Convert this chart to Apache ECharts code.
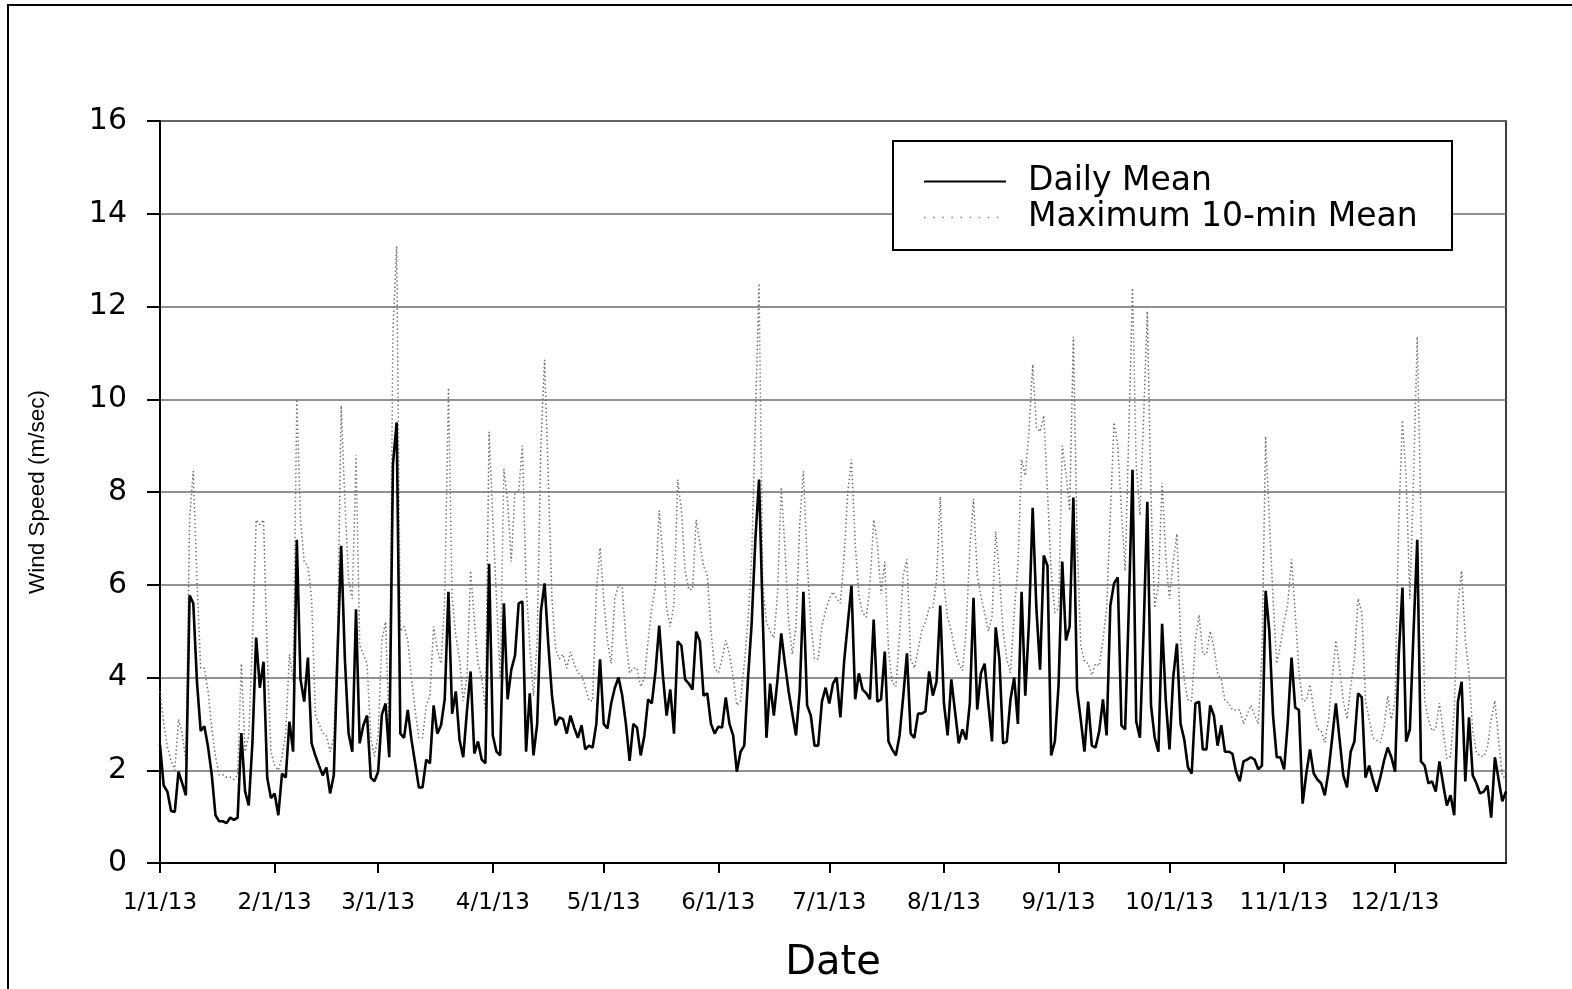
<!DOCTYPE html>
<html>
<head>
<meta charset="utf-8">
<title>Wind Speed 2013</title>
<script src="https://cdn.jsdelivr.net/npm/echarts@6/dist/echarts.min.js"></script>
<style>
  html, body { margin: 0; padding: 0; background: #fff; }
  #chart { width: 1572px; height: 989px; }
</style>
</head>
<body>
<div id="chart"></div>
<script>
// Daily mean wind speed (m/sec), 2013, one value per day
const meanJan = [2.55, 1.67, 1.54, 1.12, 1.10, 1.97, 1.72, 1.46, 5.77, 5.60, 3.90, 2.85, 2.95, 2.50, 1.90, 1.03, 0.90, 0.90, 0.86, 0.98, 0.93, 0.98, 2.80, 1.55, 1.24, 2.60, 4.86, 3.78, 4.34, 1.84, 1.40];
const meanFeb = [1.50, 1.03, 1.93, 1.84, 3.05, 2.40, 6.97, 3.96, 3.48, 4.43, 2.58, 2.32, 2.10, 1.89, 2.06, 1.50, 1.89, 4.50, 6.84, 4.40, 2.79, 2.40, 5.47, 2.58, 2.97, 3.18, 1.84, 1.76];
const meanMar = [1.97, 3.20, 3.44, 2.28, 8.60, 9.50, 2.79, 2.70, 3.30, 2.66, 2.15, 1.63, 1.63, 2.23, 2.15, 3.40, 2.79, 2.97, 3.53, 5.85, 3.22, 3.70, 2.66, 2.28, 3.27, 4.13, 2.36, 2.62, 2.23, 2.15, 6.45];
const meanApr = [2.75, 2.40, 2.32, 5.60, 3.53, 4.17, 4.47, 5.60, 5.64, 2.40, 3.66, 2.32, 3.00, 5.42, 6.03, 4.73, 3.61, 2.97, 3.14, 3.10, 2.79, 3.18, 2.92, 2.70, 2.97, 2.45, 2.53, 2.49, 3.00, 4.39];
const meanMay = [3.00, 2.90, 3.44, 3.78, 4.00, 3.61, 3.00, 2.20, 3.00, 2.92, 2.32, 2.75, 3.53, 3.44, 4.13, 5.12, 4.04, 3.18, 3.74, 2.79, 4.78, 4.69, 3.96, 3.87, 3.74, 4.99, 4.78, 3.61, 3.66, 3.00, 2.79];
const meanJun = [2.94, 2.92, 3.57, 3.00, 2.75, 1.97, 2.40, 2.53, 3.96, 5.16, 6.97, 8.27, 5.30, 2.70, 3.87, 3.18, 3.96, 4.95, 4.30, 3.70, 3.22, 2.75, 3.70, 5.85, 3.40, 3.18, 2.53, 2.53, 3.48, 3.78];
const meanJul = [3.44, 3.87, 4.00, 3.14, 4.34, 5.16, 5.98, 3.53, 4.09, 3.74, 3.66, 3.53, 5.25, 3.48, 3.53, 4.56, 2.62, 2.45, 2.32, 2.75, 3.60, 4.52, 2.79, 2.70, 3.22, 3.22, 3.27, 4.13, 3.61, 3.91, 5.55];
const meanAug = [3.44, 2.75, 3.96, 3.27, 2.58, 2.88, 2.66, 3.44, 5.72, 3.31, 4.09, 4.30, 3.44, 2.62, 5.08, 4.39, 2.58, 2.62, 3.53, 4.00, 3.00, 5.85, 3.61, 5.20, 7.66, 5.50, 4.17, 6.63, 6.41, 2.32, 2.62];
const meanSep = [3.83, 6.50, 4.80, 5.10, 7.88, 3.74, 3.09, 2.40, 3.48, 2.53, 2.49, 2.84, 3.53, 2.75, 5.55, 6.03, 6.16, 2.97, 2.88, 5.50, 8.48, 3.05, 2.70, 5.00, 7.79, 3.40, 2.70, 2.40, 5.16, 3.50];
const meanOct = [2.45, 4.00, 4.73, 3.00, 2.66, 2.06, 1.93, 3.44, 3.48, 2.45, 2.45, 3.40, 3.18, 2.53, 2.97, 2.40, 2.40, 2.36, 1.97, 1.76, 2.19, 2.23, 2.28, 2.23, 2.02, 2.10, 5.87, 5.00, 3.18, 2.28, 2.28];
const meanNov = [2.02, 3.05, 4.43, 3.35, 3.30, 1.28, 1.93, 2.45, 1.93, 1.80, 1.72, 1.46, 1.97, 2.70, 3.44, 2.66, 1.89, 1.63, 2.40, 2.62, 3.66, 3.57, 1.84, 2.10, 1.80, 1.54, 1.84, 2.20, 2.49, 2.28];
const meanDec = [1.97, 4.50, 5.94, 2.62, 2.88, 5.00, 6.97, 2.19, 2.10, 1.72, 1.76, 1.54, 2.19, 1.70, 1.24, 1.46, 1.03, 3.48, 3.91, 1.76, 3.14, 1.89, 1.72, 1.50, 1.54, 1.67, 0.98, 2.28, 1.80, 1.33, 1.54];

// Highest 10-minute mean of each day (m/sec)
const maxJan = [3.7, 3.0, 2.5, 2.2, 2.0, 3.1, 2.8, 2.2, 7.4, 8.45, 6.1, 4.2, 4.2, 3.7, 2.9, 2.3, 1.9, 1.9, 1.85, 1.85, 1.8, 1.9, 4.3, 2.4, 2.75, 4.8, 7.4, 7.3, 7.4, 4.5, 2.4];
const maxFeb = [2.1, 2.0, 2.3, 2.8, 4.5, 3.9, 10.0, 7.4, 6.5, 6.4, 5.7, 3.2, 3.0, 2.8, 2.75, 2.4, 2.7, 4.8, 9.86, 7.8, 6.1, 5.7, 8.8, 4.7, 4.5, 4.3, 2.7, 2.3];
const maxMar = [2.75, 4.8, 5.2, 2.8, 11.5, 13.3, 5.0, 5.1, 4.8, 4.0, 3.3, 2.7, 2.7, 3.4, 3.6, 5.1, 4.6, 4.3, 5.7, 10.25, 5.7, 4.9, 4.4, 3.5, 4.0, 6.3, 5.25, 4.3, 4.0, 3.3, 9.3];
const maxApr = [7.4, 5.7, 4.0, 8.5, 7.8, 6.5, 8.0, 8.0, 9.0, 6.0, 4.7, 3.6, 4.8, 9.0, 10.85, 8.3, 5.7, 4.6, 4.4, 4.5, 4.2, 4.55, 4.3, 4.1, 4.05, 3.8, 3.5, 3.5, 5.85, 6.8];
const maxMay = [5.7, 4.8, 4.3, 5.7, 6.0, 5.95, 4.8, 4.1, 4.2, 4.2, 3.8, 4.0, 4.8, 5.5, 6.0, 7.6, 6.6, 5.5, 5.1, 5.6, 8.27, 7.6, 6.3, 5.9, 5.9, 7.4, 6.9, 6.4, 6.2, 5.0, 4.2];
const maxJun = [4.1, 4.4, 4.8, 4.5, 4.0, 3.4, 3.5, 4.3, 5.2, 6.6, 9.5, 12.5, 6.0, 5.2, 5.0, 4.85, 5.8, 8.1, 6.8, 5.2, 4.5, 5.1, 7.3, 8.45, 6.5, 5.2, 4.4, 4.4, 5.1, 5.45];
const maxJul = [5.7, 5.85, 5.7, 5.6, 6.6, 8.0, 8.7, 6.9, 5.75, 5.4, 5.3, 6.0, 7.4, 6.9, 5.8, 6.5, 4.6, 3.9, 3.8, 4.9, 6.2, 6.55, 4.4, 4.2, 4.6, 5.0, 5.2, 5.5, 5.5, 6.1, 7.9];
const maxAug = [6.0, 5.3, 5.0, 4.6, 4.3, 4.15, 5.0, 6.8, 7.85, 6.2, 5.75, 5.4, 5.0, 5.3, 7.15, 6.2, 5.0, 4.4, 4.1, 5.4, 6.4, 8.7, 8.35, 9.3, 10.75, 9.4, 9.3, 9.65, 8.0, 6.3, 5.4];
const maxSep = [5.5, 9.0, 8.4, 7.6, 11.35, 7.0, 4.7, 4.35, 4.3, 4.05, 4.3, 4.25, 4.8, 5.5, 7.5, 9.5, 9.0, 7.6, 6.3, 9.3, 12.4, 8.6, 7.5, 9.6, 11.9, 7.9, 5.5, 6.0, 8.2, 6.6];
const maxOct = [5.7, 6.5, 7.1, 4.8, 3.95, 3.5, 3.5, 4.8, 5.35, 4.5, 4.5, 5.0, 4.65, 4.1, 3.95, 3.5, 3.45, 3.3, 3.3, 3.3, 3.0, 3.2, 3.4, 3.2, 3.0, 4.5, 9.2, 7.4, 5.7, 4.3, 4.7];
const maxNov = [5.2, 5.6, 6.55, 5.4, 4.1, 3.5, 3.5, 3.85, 3.3, 2.9, 2.85, 2.6, 3.1, 4.0, 4.8, 4.2, 3.5, 3.1, 3.8, 4.4, 5.7, 5.4, 3.5, 3.1, 2.7, 2.65, 2.6, 2.9, 3.6, 3.1];
const maxDec = [3.5, 7.4, 9.55, 8.3, 5.7, 8.3, 11.35, 7.4, 3.5, 3.1, 2.85, 2.9, 3.45, 2.85, 2.25, 2.3, 3.3, 5.6, 6.3, 4.8, 4.1, 2.85, 2.4, 2.3, 2.3, 2.5, 3.1, 3.5, 2.65, 1.9, 1.8];

// Month-start dates that carry a tick and a label on the date axis
const tickLabels = ['1/1/13', '2/1/13', '3/1/13', '4/1/13', '5/1/13', '6/1/13',
                    '7/1/13', '8/1/13', '9/1/13', '10/1/13', '11/1/13', '12/1/13'];

const seriesNames = ['Daily Mean', 'Maximum 10-min Mean'];

const dailyMean = [].concat(meanJan, meanFeb, meanMar, meanApr, meanMay, meanJun,
                            meanJul, meanAug, meanSep, meanOct, meanNov, meanDec);
const maxMean = [].concat(maxJan, maxFeb, maxMar, maxApr, maxMay, maxJun,
                          maxJul, maxAug, maxSep, maxOct, maxNov, maxDec);

// One category per calendar day of 2013, written M/D/YY
const YEAR = 2013;
const dates = [];
for (let m = 0; m < 12; m++) {
  const days = new Date(Date.UTC(YEAR, m + 1, 0)).getUTCDate();
  for (let d = 1; d <= days; d++) {
    dates.push((m + 1) + '/' + d + '/' + String(YEAR).slice(2));
  }
}

const isMonthStart = (index, value) => tickLabels.indexOf(value) >= 0;

const SANS = "'DejaVu Sans', 'Liberation Sans', sans-serif";
const ARIAL = "'Liberation Sans', Arial, sans-serif";

const MEAN_LINE = { color: '#000', width: 2.6, type: 'solid' };
const MAX_LINE = { color: '#6a6a6a', width: 1.5, type: [1.4, 2.6] };

const chart = echarts.init(document.getElementById('chart'), null, { renderer: 'canvas' });

chart.setOption({
  animation: false,
  backgroundColor: '#ffffff',
  grid: {
    left: 160, right: 66, top: 121, bottom: 126,
    show: true, borderColor: '#000', borderWidth: 1.5,
    containLabel: false
  },
  graphic: [
    {
      type: 'rect', z: 0, silent: true,
      shape: { x: 8, y: 5, width: 1620, height: 1020 },
      style: { fill: 'none', stroke: '#000', lineWidth: 2 }
    },
    {
      type: 'rect', z: 10, silent: true,
      shape: { x: 893, y: 141, width: 559, height: 109 },
      style: { fill: '#fff', stroke: '#000', lineWidth: 2 }
    }
  ],
  legend: {
    z: 20,
    orient: 'vertical',
    left: 918, top: 160,
    itemWidth: 82, itemHeight: 14, itemGap: 3,
    selectedMode: false,
    itemStyle: { opacity: 0 },
    data: [
      { name: seriesNames[0], itemStyle: { opacity: 0 }, lineStyle: { color: '#000', width: 2, type: 'solid' } },
      { name: seriesNames[1], itemStyle: { opacity: 0 }, lineStyle: { color: '#888', width: 1.6, type: [1.6, 7.5] } }
    ],
    textStyle: {
      fontFamily: SANS, fontSize: 33, color: '#000',
      lineHeight: 33, padding: [0, 0, 0, 17]
    }
  },
  xAxis: {
    type: 'category',
    data: dates,
    boundaryGap: false,
    axisLine: { show: true, lineStyle: { color: '#000', width: 2 } },
    axisTick: { show: true, interval: isMonthStart, length: 10, lineStyle: { color: '#000', width: 2 } },
    axisLabel: {
      interval: isMonthStart, margin: 29,
      fontFamily: SANS, fontSize: 23, color: '#000'
    },
    splitLine: { show: false },
    name: 'Date',
    nameLocation: 'middle',
    nameGap: 81,
    nameTextStyle: { fontFamily: SANS, fontSize: 40, color: '#000' }
  },
  yAxis: {
    type: 'value',
    min: 0, max: 16, interval: 2,
    axisLine: { show: true, lineStyle: { color: '#000', width: 2 } },
    axisTick: { show: true, length: 13, lineStyle: { color: '#000', width: 2 } },
    axisLabel: { margin: 33, fontFamily: SANS, fontSize: 30, color: '#000' },
    splitLine: { show: true, lineStyle: { color: '#6e6e6e', width: 1.5 } },
    name: 'Wind Speed (m/sec)',
    nameLocation: 'middle',
    nameGap: 111,
    nameTextStyle: { fontFamily: ARIAL, fontSize: 22.5, color: '#000' }
  },
  series: [
    {
      name: seriesNames[1],
      type: 'line',
      data: maxMean,
      symbol: 'none', showSymbol: false,
      z: 2,
      itemStyle: { color: '#6a6a6a', opacity: 0 },
      lineStyle: MAX_LINE
    },
    {
      name: seriesNames[0],
      type: 'line',
      data: dailyMean,
      symbol: 'none', showSymbol: false,
      z: 3,
      itemStyle: { color: '#000', opacity: 0 },
      lineStyle: MEAN_LINE
    }
  ]
});
</script>
</body>
</html>
